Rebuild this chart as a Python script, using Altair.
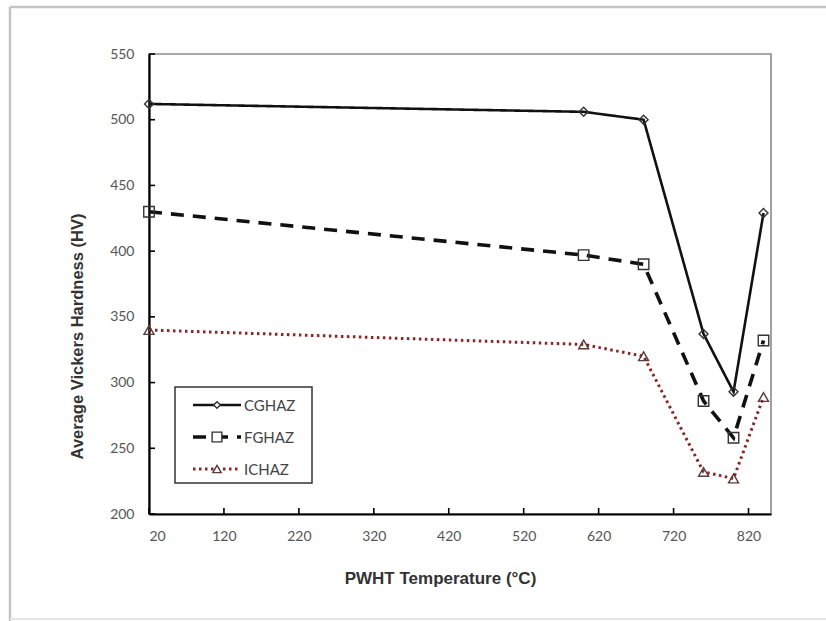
import altair as alt
import pandas as pd

# PWHT temperatures (deg C) at which hardness was measured
temperatures = [20, 600, 680, 760, 800, 840]

# Average Vickers hardness (HV) for each heat-affected zone
cghaz = [512, 506, 500, 337, 293, 429]
fghaz = [430, 397, 390, 286, 258, 332]
ichaz = [340, 329, 320, 232, 227, 289]

series_names = ["CGHAZ", "FGHAZ", "ICHAZ"]
series_values = [cghaz, fghaz, ichaz]

x_ticks = [20, 120, 220, 320, 420, 520, 620, 720, 820]
y_ticks = [200, 250, 300, 350, 400, 450, 500, 550]

W, H = 622, 460
LABEL_FONT = "Lato, Open Sans, sans-serif"
TITLE_FONT = "Liberation Sans, Arial, sans-serif"

# line / marker appearance per zone
styles = {
    "CGHAZ": dict(color="#111111", width=2.6, dash=[1, 0], shape="diamond", size=80, mcolor="#333333", lsize=45),
    "FGHAZ": dict(color="#111111", width=3.6, dash=[13, 9], shape="square", size=110, mcolor="#333333", lsize=95),
    "ICHAZ": dict(color="#8b2525", width=3.0, dash=[2.5, 3.5], shape="triangle-up", size=100, mcolor="#5a3a3a", lsize=70),
}

x_enc = alt.X(
    "temp:Q",
    scale=alt.Scale(domain=[20, 850], nice=False, zero=False),
    axis=alt.Axis(values=x_ticks, title="PWHT Temperature (°C)", grid=False, ticks=False,
                  domainColor="#000000", domainWidth=2.2, labelPadding=15,
                  labelFont=LABEL_FONT, labelFontSize=14, labelColor="#555555",
                  titleFont=TITLE_FONT, titleFontSize=17, titleFontWeight="bold",
                  titleColor="#333333", titlePadding=27, titleX=291),
)
y_enc = alt.Y(
    "hardness:Q",
    scale=alt.Scale(domain=[200, 550], nice=False, zero=False),
    axis=alt.Axis(values=y_ticks, title="Average Vickers Hardness (HV)", grid=False, ticks=False,
                  domainColor="#000000", domainWidth=2.2, labelPadding=15,
                  labelFont=LABEL_FONT, labelFontSize=14, labelColor="#555555",
                  titleFont=TITLE_FONT, titleFontSize=16.5, titleFontWeight="bold",
                  titleColor="#333333", titlePadding=24, titleY=282),
)

layers = []

# inward tick marks on the bottom and left axes
xt = pd.DataFrame({"temp": x_ticks})
layers.append(alt.Chart(xt).mark_rule(color="#000000", strokeWidth=1.6).encode(
    x=x_enc, y=alt.value(H), y2=alt.value(H - 6)))
yt = pd.DataFrame({"hardness": y_ticks})
layers.append(alt.Chart(yt).mark_rule(color="#000000", strokeWidth=1.6).encode(
    y=y_enc, x=alt.value(0), x2=alt.value(6)))

# data lines with open markers
for name, vals in zip(series_names, series_values):
    st = styles[name]
    df = pd.DataFrame({"temp": temperatures, "hardness": vals, "series": name})
    base = alt.Chart(df)
    layers.append(base.mark_line(color=st["color"], strokeWidth=st["width"],
                                 strokeDash=st["dash"], strokeCap="butt").encode(x=x_enc, y=y_enc))
    layers.append(base.mark_point(shape=st["shape"], size=st["size"], filled=False,
                                  stroke=st["mcolor"], strokeWidth=1.4, opacity=1).encode(x=x_enc, y=y_enc))

# legend box
box = pd.DataFrame({"series": ["legend"]})
layers.append(alt.Chart(box).mark_rect(fill="white", stroke="#333333", strokeWidth=1.5).encode(
    x=alt.value(26), x2=alt.value(163), y=alt.value(333), y2=alt.value(429)))
row_y = [351, 383, 415]
for name, ry in zip(series_names, row_y):
    st = styles[name]
    d = pd.DataFrame({"series": [name]})
    c = alt.Chart(d)
    layers.append(c.mark_rule(color=st["color"], strokeWidth=st["width"], strokeDash=st["dash"],
                              strokeCap="butt").encode(
        x=alt.value(44), x2=alt.value(92), y=alt.value(ry)))
    layers.append(c.mark_point(shape=st["shape"], size=st["lsize"], filled=True, fill="white",
                               stroke=st["mcolor"], strokeWidth=1.4, opacity=1).encode(
        x=alt.value(68), y=alt.value(ry)))
    layers.append(c.mark_text(align="left", baseline="middle", font=LABEL_FONT, fontSize=15,
                              color="#444444").encode(
        x=alt.value(95), y=alt.value(ry + 1), text="series:N"))

# light frame around the figure
fr = pd.DataFrame({"series": ["frame"]})
layers.append(alt.Chart(fr).mark_rule(color="#c4c4c4", strokeWidth=2.5).encode(
    x=alt.value(-139), y=alt.value(-47), y2=alt.value(H + 107)))
layers.append(alt.Chart(fr).mark_rule(color="#c4c4c4", strokeWidth=2.5).encode(
    x=alt.value(-139), x2=alt.value(W + 55), y=alt.value(-47)))
layers.append(alt.Chart(fr).mark_rule(color="#e6e6e6", strokeWidth=2).encode(
    x=alt.value(-139), x2=alt.value(W + 55), y=alt.value(H + 105)))

chart = alt.layer(*layers).properties(
    width=W, height=H,
    autosize=alt.AutoSizeParams(type="none"),
    padding={"left": 149, "top": 54, "right": 55, "bottom": 107},
    background="white",
).configure_view(stroke="#8a8a8a", strokeWidth=1.6)

chart.save("out.html", embed_options={"renderer": "svg", "actions": False})
